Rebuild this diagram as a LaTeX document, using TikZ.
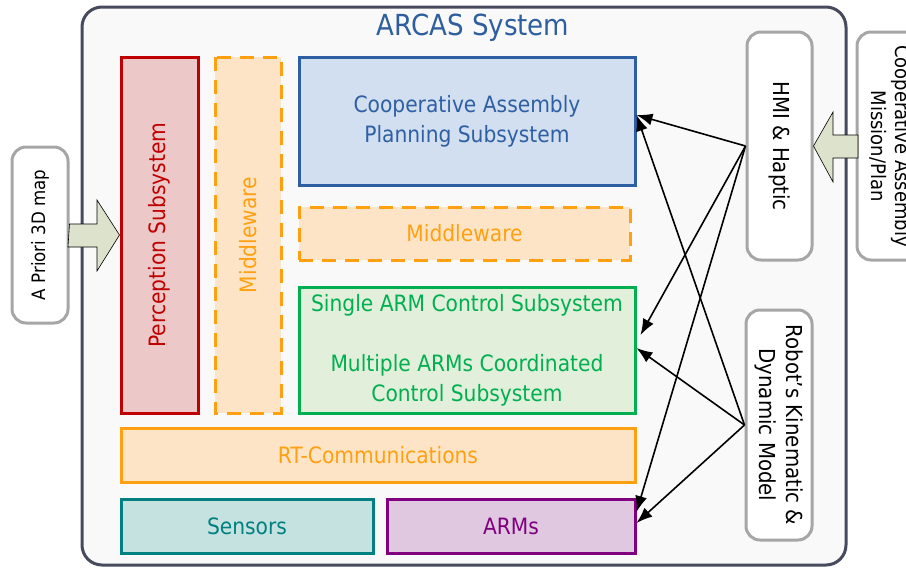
\documentclass[tikz,border=0pt]{standalone}
\usepackage{fontspec}
\setmainfont{DejaVu Sans Condensed}
\usetikzlibrary{arrows.meta}

\definecolor{sysline}{HTML}{474A5C}
\definecolor{sysfill}{HTML}{F9F9F9}
\definecolor{titleblue}{HTML}{2F5E9E}
\definecolor{percred}{HTML}{C00000}
\definecolor{percfill}{HTML}{ECC8C8}
\definecolor{mworange}{HTML}{FFA010}
\definecolor{mwfill}{HTML}{FDE4C6}
\definecolor{planblue}{HTML}{2F5FA3}
\definecolor{planfill}{HTML}{D1DFF0}
\definecolor{ctrlgreen}{HTML}{00B050}
\definecolor{ctrlfill}{HTML}{E2EFDA}
\definecolor{sensteal}{HTML}{008080}
\definecolor{sensfill}{HTML}{C5E2E0}
\definecolor{armpurple}{HTML}{800080}
\definecolor{armfill}{HTML}{E0C8E0}
\definecolor{extgray}{HTML}{A6A6A6}
\definecolor{bigarrow}{HTML}{DDE2CC}

\tikzset{
  subsys/.style={draw, line width=3pt, inner sep=2pt, align=center, font=\fontsize{22.5}{30}\selectfont},
  mwbox/.style={subsys, draw=mworange, fill=mwfill, text=mworange, dash pattern=on 14pt off 9pt},
  extbox/.style={draw=extgray, fill=white, line width=3pt, rounded corners=14pt, align=center, font=\fontsize{22}{27}\selectfont},
  link/.style={line width=1.6pt, -{Latex[length=16pt,width=12pt]}},
  blockarrow/.style={draw=black, fill=bigarrow, line width=0.6pt}
}

\begin{document}
\begin{tikzpicture}[x=1pt,y=-1pt]
    \useasboundingbox (0,0) rectangle (906,568);
    \draw[sysline, fill=sysfill, line width=3pt, rounded corners=20pt] (82,7) rectangle (846,565);
    \node[text=titleblue, font=\fontsize{29}{32}\selectfont] (title) at (473,28) {ARCAS System};

    \node[subsys, draw=percred, fill=percfill, text=percred, rotate=90, minimum width=356pt, minimum height=77pt] (perc) at (159.5,235) {Perception Subsystem};
    \node[mwbox, rotate=90, minimum width=356pt, minimum height=66pt] (mwv) at (248,235) {Middleware};
    \node[subsys, draw=planblue, fill=planfill, text=planblue, minimum width=336pt, minimum height=128pt] (plan) at (467,121) {Cooperative Assembly\\Planning Subsystem};
    \node[mwbox, minimum width=331pt, minimum height=53pt] (mwh) at (464.5,233.5) {Middleware};
    \node[subsys, draw=ctrlgreen, fill=ctrlfill, text=ctrlgreen, minimum width=336pt, minimum height=126pt] (ctrl) at (467,350) {Single ARM Control Subsystem\\[30pt]Multiple ARMs Coordinated\\Control Subsystem};
    \node[subsys, draw=mworange, fill=mwfill, text=mworange, minimum width=514pt, minimum height=54pt] (rt) at (378,455) {RT-Communications};
    \node[subsys, draw=sensteal, fill=sensfill, text=sensteal, minimum width=252pt, minimum height=54pt] (sens) at (247,526) {Sensors};
    \node[subsys, draw=armpurple, fill=armfill, text=armpurple, minimum width=248pt, minimum height=54pt] (arms) at (511,526) {ARMs};

    \node[extbox, rotate=-90, minimum width=228pt, minimum height=65pt] (hmi) at (779.5,146) {HMI \& Haptic};
    \node[extbox, rotate=-90, minimum width=230pt, minimum height=66pt] (robot) at (779,425) {Robot's Kinematic \&\\Dynamic Model};
    \node[extbox, rotate=-90, minimum width=228pt, minimum height=66pt, font=\fontsize{20}{24}\selectfont] (mission) at (890,146) {Cooperative Assembly\\Mission/Plan};
    \node[extbox, rotate=90, minimum width=176pt, minimum height=56pt, font=\fontsize{18.5}{22}\selectfont] (apriori) at (40,235) {A Priori 3D map};

    \draw[blockarrow] (apriori.south) ++(0,-11) -- (97,224) -- (97,200) -- (perc.north) -- (97,271) -- (97,247) -- (68,247) -- cycle;
    \draw[blockarrow] (858,135) -- (833,135) -- (833,112) -- (hmi.north) -- (833,182) -- (833,158) -- (858,158) -- cycle;

    \draw[link] (hmi.south) -- ([yshift=6pt]plan.east);
    \draw[link] (hmi.south) -- ([xshift=4pt,yshift=15pt]ctrl.east);
    \draw[link] (hmi.south) -- ([yshift=14pt]arms.east);
    \draw[link] (robot.south) -- ([yshift=6pt]plan.east);
    \draw[link] (robot.south) -- ([yshift=2pt]ctrl.east);
    \draw[link] (robot.south) -- ([yshift=3pt]arms.east);
\end{tikzpicture}
\end{document}
